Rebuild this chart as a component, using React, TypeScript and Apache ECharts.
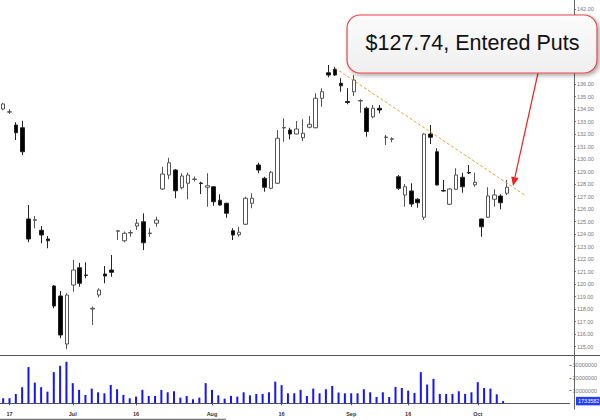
import React, { useEffect, useRef } from "react";
import * as echarts from "echarts";

const dates = [
  "06-14", "06-17", "06-18", "06-19", "06-20", "06-21", "06-24", "06-25", "06-26", "06-27", "06-28",
  "07-01", "07-02", "07-03", "07-05", "07-08", "07-09", "07-10", "07-11", "07-12", "07-15", "07-16",
  "07-17", "07-18", "07-19", "07-22", "07-23", "07-24", "07-25", "07-26", "07-29", "07-30", "07-31",
  "08-01", "08-02", "08-05", "08-06", "08-07", "08-08", "08-09", "08-12", "08-13", "08-14", "08-15",
  "08-16", "08-19", "08-20", "08-21", "08-22", "08-23", "08-26", "08-27", "08-28", "08-29", "08-30",
  "09-03", "09-04", "09-05", "09-06", "09-09", "09-10", "09-11", "09-12", "09-13", "09-16", "09-17",
  "09-18", "09-19", "09-20", "09-23", "09-24", "09-25", "09-26", "09-27", "09-30",
  "10-01", "10-02", "10-03", "10-04", "10-07",
  "10-08", "10-09", "10-10", "10-11", "10-14", "10-15", "10-16", "10-17", "10-18", "10-21",
];

const tickLabels: Record<string, string> = {
  "06-17": "17", "07-01": "Jul", "07-16": "16", "08-01": "Aug",
  "08-16": "16", "09-03": "Sep", "09-16": "16", "10-01": "Oct",
};

const opens = [
  134.0, 133.75, 132.72, 132.5, 125.2, 125.1, 124.3, 123.6, 119.84, 119.04,
  115.2, 119.92, 121.3, 120.72, 118.0, 119.12, 120.8, 121.12, 124.22, 123.46,
  124.08, 124.64, 124.98, 124.04, 124.86, 127.6, 128.72, 129.12, 127.7, 128.06,
  128.36, 128.08, 127.74, 127.78, 126.7, 126.46, 124.26, 123.94, 124.78, 126.46,
  129.52, 128.46, 127.66, 128.06, 132.48, 132.32, 132.0, 131.7, 132.54, 132.5,
  134.86, 136.9, 137.18, 136.06, 134.6, 135.38, 134.64, 134.06, 133.38, 134.06,
  131.72, 131.58, 128.58, 127.12, 127.44, 126.78, 125.34, 132.0, 130.58, 127.48,
  126.38, 127.58, 128.54, 128.92, 127.94, 125.2, 125.34, 126.78, 127.04, 127.26,
];
const closes = [
  134.4, 133.78, 132.1, 130.58, 123.6, 125.15, 123.92, 123.46, 118.24, 115.92,
  119.12, 121.12, 120.06, 120.68, 118.06, 119.52, 120.64, 120.94, 124.26, 124.06,
  124.12, 124.86, 123.3, 124.08, 125.12, 128.8, 129.7, 127.46, 128.64, 128.72,
  128.4, 128.04, 127.86, 126.58, 126.32, 125.66, 123.92, 124.14, 126.86, 126.86,
  129.12, 127.74, 128.94, 131.66, 132.52, 132.0, 132.4, 132.06, 132.78, 134.86,
  135.38, 136.72, 136.72, 135.86, 134.52, 136.32, 134.68, 132.2, 134.06, 133.92,
  131.76, 131.62, 127.66, 127.78, 126.4, 126.5, 132.0, 131.74, 127.92, 127.44,
  127.6, 128.72, 127.78, 128.88, 128.14, 124.58, 127.04, 127.12, 126.5, 127.74,
];
const lows = [
  133.9, 133.6, 131.52, 130.32, 123.34, 124.45, 123.26, 122.86, 118.06, 115.66,
  114.78, 119.38, 119.78, 120.46, 116.72, 118.94, 120.06, 120.58, 123.52, 123.34,
  123.78, 124.32, 122.72, 123.78, 124.58, 127.52, 128.38, 126.86, 127.58, 126.78,
  128.2, 127.2, 126.18, 126.26, 126.26, 125.3, 123.52, 123.78, 124.72, 126.06,
  128.86, 127.38, 127.58, 128.0, 131.38, 131.58, 131.98, 131.44, 132.46, 132.46,
  134.18, 136.54, 136.64, 135.38, 134.38, 135.04, 133.7, 131.78, 133.26, 133.66,
  131.12, 131.34, 127.52, 126.18, 126.18, 126.1, 125.12, 131.2, 127.9, 127.38,
  126.32, 127.52, 127.3, 128.8, 127.78, 123.78, 125.28, 126.18, 125.98, 127.12,
];
const highs = [
  134.5, 133.98, 132.94, 133.06, 126.32, 125.44, 124.64, 123.84, 119.92, 119.44,
  119.26, 121.92, 121.7, 121.73, 118.2, 119.66, 121.44, 122.32, 124.3, 124.2,
  124.32, 125.2, 125.65, 124.46, 125.38, 129.38, 130.1, 129.2, 128.86, 128.9,
  128.6, 128.18, 128.86, 127.8, 127.18, 126.5, 124.46, 124.58, 126.98, 127.26,
  129.7, 128.58, 129.04, 132.32, 133.26, 132.5, 133.04, 133.18, 133.44, 135.26,
  135.66, 137.52, 137.38, 136.46, 135.66, 136.72, 134.78, 134.18, 134.32, 134.32,
  131.92, 131.74, 128.72, 128.0, 128.06, 126.86, 132.06, 132.72, 130.86, 128.32,
  127.66, 129.26, 128.9, 129.52, 128.9, 125.22, 127.74, 127.58, 127.18, 128.32,
];
const volumes = [
  4000000, 4000000, 7400000, 12700000, 28600000, 16300000, 12700000, 9200000, 24600000, 29600000,
  32800000, 15900000, 10600000, 6600000, 11600000, 8700000, 7900000, 14500000, 11100000, 6600000,
  4000000, 5300000, 10600000, 5800000, 5800000, 10600000, 8700000, 9500000, 4500000, 5800000,
  3200000, 4500000, 15900000, 10600000, 6300000, 3700000, 5800000, 5300000, 8700000, 6300000,
  7400000, 7400000, 8700000, 17100000, 14300000, 7900000, 7900000, 10600000, 5800000, 11600000,
  7900000, 11100000, 13700000, 8500000, 7900000, 7900000, 7900000, 11100000, 8700000, 5000000,
  8700000, 5000000, 12900000, 12100000, 10000000, 8200000, 24600000, 14800000, 19300000, 7400000,
  7400000, 7400000, 9500000, 7400000, 8700000, 16700000, 12100000, 11600000, 7100000, 1733582,
];

const priceMin = 115;
const priceMax = 142;
const priceStep = 1;
const volMax = 30000000;
const volStep = 10000000;

const trendStart = { date: "08-28", price: 137.28 };
const trendEnd = { date: "10-10", price: 127.04 };
const noteSuffix = "Entered Puts";
// price labels that sit under the callout box
const hiddenUnderNote = [137, 138, 139, 140, 141];

const FONT = "'Liberation Sans', Arial, sans-serif";

export default function App() {
  const ref = useRef<HTMLDivElement>(null);

  useEffect(() => {
    if (!ref.current) return;
    const chart = echarts.init(ref.current, null, { renderer: "svg" });
    const candles = opens.map((o, i) => [o, closes[i], lows[i], highs[i]]);
    const lastClose = closes[closes.length - 1];
    const lastVol = volumes[volumes.length - 1];
    const showTick = (_i: number, v: string) => v in tickLabels;

    const ax0 = 538, ay0 = 73, ax1 = 513, ay1 = 186;
    const dx = ax1 - ax0, dy = ay1 - ay0;
    const len = Math.sqrt(dx * dx + dy * dy);
    const ux = dx / len, uy = dy / len;
    const hl = 9, hw = 3.8;
    const bx = ax1 - ux * hl, by = ay1 - uy * hl;

    const option: any = {
      animation: false,
      backgroundColor: "#ffffff",
      grid: [
        { left: 0, width: 574, top: 9, height: 337.5 },
        { left: 0, width: 574, top: 365.3, height: 38 },
      ],
      xAxis: [
        { type: "category", gridIndex: 0, data: dates, boundaryGap: true, show: false },
        {
          type: "category",
          gridIndex: 1,
          data: dates,
          boundaryGap: true,
          position: "bottom",
          offset: 5.7,
          axisLine: { show: true, lineStyle: { color: "#555", width: 1 } },
          axisTick: { show: true, interval: showTick, alignWithLabel: true, length: 2, lineStyle: { color: "#555" } },
          axisLabel: {
            interval: showTick,
            formatter: (v: string) => tickLabels[v] || "",
            fontSize: 5.5,
            fontWeight: "bold",
            color: "#333",
            fontFamily: FONT,
            margin: 2,
          },
          splitLine: { show: false },
        },
      ],
      yAxis: [
        {
          type: "value",
          gridIndex: 0,
          position: "right",
          min: priceMin,
          max: priceMax,
          interval: priceStep,
          axisLine: { show: false },
          axisTick: { show: true, length: 2, lineStyle: { color: "#777" } },
          axisLabel: {
            formatter: (v: number) => (hiddenUnderNote.includes(v) ? "" : v.toFixed(2)),
            fontSize: 5.5,
            color: "#777",
            fontFamily: FONT,
            margin: 3,
          },
          splitLine: { show: false },
        },
        {
          type: "value",
          gridIndex: 1,
          position: "right",
          min: 0,
          max: volMax,
          interval: volStep,
          axisLine: { show: false },
          axisTick: { show: true, length: 2, lineStyle: { color: "#777" } },
          axisLabel: {
            formatter: (v: number) => String(v),
            showMinLabel: false,
            fontSize: 5.5,
            color: "#777",
            fontFamily: FONT,
            margin: 3,
          },
          splitLine: { show: false },
        },
      ],
      series: [
        {
          type: "candlestick",
          xAxisIndex: 0,
          yAxisIndex: 0,
          data: candles,
          barWidth: 4,
          clip: false,
          itemStyle: {
            color: "#ffffff",
            color0: "#000000",
            borderColor: "#555555",
            borderColor0: "#222222",
            borderWidth: 1,
          },
          markLine: {
            silent: true,
            symbol: "none",
            animation: false,
            data: [
              {
                yAxis: lastClose,
                lineStyle: { opacity: 0 },
                label: {
                  show: true,
                  position: "end",
                  distance: 3,
                  formatter: () => lastClose.toFixed(2),
                  color: "#c0305a",
                  fontSize: 5.5,
                  fontFamily: FONT,
                },
              },
              [
                {
                  coord: [trendStart.date, trendStart.price],
                  lineStyle: { color: "#f0a032", width: 1, type: [3, 2] },
                  label: { show: false },
                },
                { coord: [trendEnd.date, trendEnd.price] },
              ],
            ],
          },
        },
        {
          type: "bar",
          xAxisIndex: 1,
          yAxisIndex: 1,
          data: volumes,
          barWidth: 2,
          clip: false,
          itemStyle: { color: "#1414ff" },
        },
      ],
      graphic: [
        { type: "line", z: 50, shape: { x1: 574.5, y1: 0, x2: 574.5, y2: 409.5 }, style: { stroke: "#666", lineWidth: 1 } },
        { type: "line", z: 50, shape: { x1: 0, y1: 355.5, x2: 600, y2: 355.5 }, style: { stroke: "#555", lineWidth: 1 } },
        { type: "line", z: 50, shape: { x1: 0, y1: 419.5, x2: 226, y2: 419.5 }, style: { stroke: "#777", lineWidth: 1.5 } },
        { type: "line", z: 90, shape: { x1: ax0, y1: ay0, x2: bx, y2: by }, style: { stroke: "#ee2222", lineWidth: 1.2 } },
        {
          type: "polygon",
          z: 90,
          shape: { points: [[ax1, ay1], [bx - uy * hw, by + ux * hw], [bx + uy * hw, by - ux * hw]] },
          style: { fill: "#ee2222" },
        },
        {
          type: "rect",
          z: 100,
          shape: { x: 347, y: 15, width: 250, height: 58, r: 13 },
          style: {
            fill: new echarts.graphic.LinearGradient(0, 0, 0, 1, [
              { offset: 0, color: "#fcfcfc" },
              { offset: 1, color: "#efefef" },
            ]),
            stroke: "#e84848",
            lineWidth: 1.2,
            shadowBlur: 4,
            shadowOffsetX: 2,
            shadowOffsetY: 2,
            shadowColor: "rgba(0,0,0,0.35)",
          },
        },
        {
          type: "text",
          z: 101,
          x: 472.5,
          y: 43,
          style: {
            text: `$${lastClose.toFixed(2)}, ${noteSuffix}`,
            fill: "#111",
            font: `21.5px ${FONT}`,
            align: "center",
            verticalAlign: "middle",
          },
        },
      ],
    };

    chart.setOption(option);

    // last-volume tag on the volume axis, placed through the volume axis scale
    const volY = chart.convertToPixel({ yAxisIndex: 1 } as any, lastVol) as number;
    chart.setOption({
      graphic: [
        {
          type: "text",
          id: "volTag",
          z: 60,
          x: 576,
          y: volY,
          style: {
            text: String(lastVol),
            fill: "#ffffff",
            font: `5.5px ${FONT}`,
            backgroundColor: "#1f3cff",
            padding: [1.5, 2, 1, 2],
            verticalAlign: "middle",
            align: "left",
          },
        },
      ],
    });

    return () => chart.dispose();
  }, []);

  return <div ref={ref} style={{ position: "fixed", left: 0, top: 0, width: 600, height: 420 }} />;
}
